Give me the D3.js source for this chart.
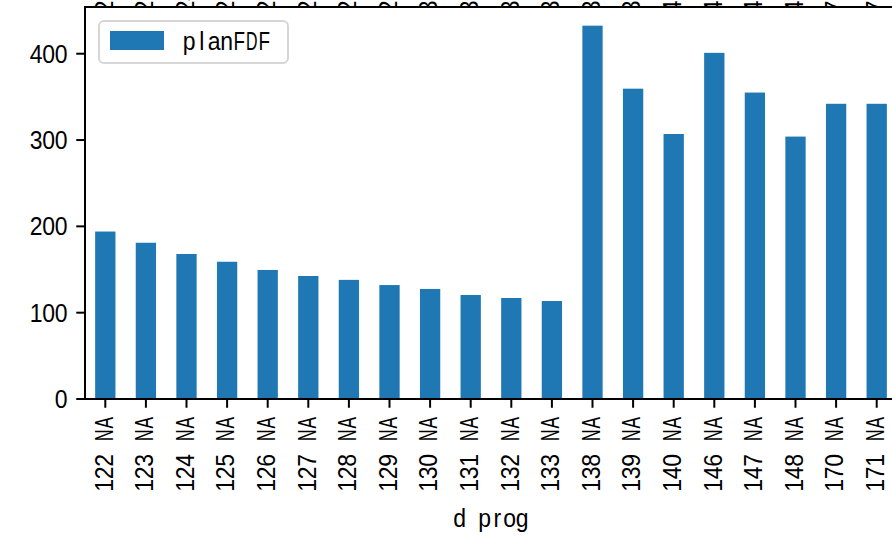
<!DOCTYPE html>
<html>
<head>
<meta charset="utf-8">
<script src="https://cdn.jsdelivr.net/npm/d3@7"></script>
<style>
  body {margin:0; background:white;}
  text {font-family:"Liberation Sans", Arial, sans-serif; fill:black;}
</style>
</head>
<body>
<div id="chart"></div>
<script>
//Chart data
var categories=["122 NA","123 NA","124 NA","125 NA","126 NA","127 NA","128 NA","129 NA","130 NA","131 NA",
                "132 NA","133 NA","138 NA","139 NA","140 NA","146 NA","147 NA","148 NA","170 NA","171 NA"];
var planFDF=[194,181,168,159,149.5,142.5,138,132,127.5,120.5,117,113.5,432.5,359.5,307,401,355,304,342,342];
var yTicks=[0,100,200,300,400];
var seriesName="planFDF";
var xLabel="d prog";

//Svg size and plot box
var w=892;
var h=537;
var plotLeft=85, plotTop=7, plotBottom=399;
var plotW=812;

//Font cell emulation (half width monospace look)
var fs=25;
var cw=12.5;
var sx=0.92;
var barColor="#1f77b4";

var svg=d3.select("#chart")
          .append("svg")
          .attr("width",w)
          .attr("height",h);

svg.append("rect")
   .attr("width",w)
   .attr("height",h)
   .attr("fill","white");

var x=d3.scaleBand()
        .domain(categories)
        .range([plotLeft,plotLeft+plotW])
        .paddingInner(0.5)
        .paddingOuter(0.25);

var y=d3.scaleLinear()
        .domain([0,d3.max(planFDF)*1.05])
        .range([plotBottom,plotTop]);

//Put each char in its own cell, anchored start/middle/end at local x=0
//wide glyphs get squeezed so they fit their cell
function cells(parent,transform,str,anchor) {
    var g=parent.append("g").attr("transform",transform);
    var n=str.length;
    var x0=anchor=="end" ? -n*cw : (anchor=="middle" ? -n*cw/2 : 0);
    for (var i=0; i<n; i++) {
        if (str[i]==" ") continue;
        var t=g.append("text")
               .attr("font-size",fs+"px")
               .attr("text-anchor","middle")
               .text(str[i]);
        var len=t.node().getComputedTextLength();
        var s=len>14.5 ? (cw-1)/len : sx;
        t.attr("transform","translate("+(x0+(i+0.5)*cw)+",0) scale("+s+",1)");
    }
    return g;
}

//Leftover tick labels of the subplot above (mostly hidden under the axes)
var upper=svg.append("g").attr("id","upper-labels");
categories.forEach(function(c) {
    cells(upper,"translate("+(x(c)+x.bandwidth()/2+7.3)+",25.5) rotate(-90)",c,"start");
});

//Axes background
svg.append("rect")
   .attr("x",plotLeft)
   .attr("y",plotTop)
   .attr("width",plotW)
   .attr("height",plotBottom-plotTop)
   .attr("fill","white");

//Bars
svg.append("g")
   .attr("id","bars")
   .selectAll("rect")
   .data(planFDF)
   .enter()
   .append("rect")
   .attr("x",function(d,i) {return x(categories[i]);})
   .attr("y",function(d) {return y(d);})
   .attr("width",x.bandwidth())
   .attr("height",function(d) {return plotBottom-y(d);})
   .attr("fill",barColor);

//Y axis ticks
var yAxis=svg.append("g").attr("id","y-axis");
yTicks.forEach(function(v) {
    yAxis.append("line")
         .attr("x1",plotLeft-8.75)
         .attr("x2",plotLeft)
         .attr("y1",y(v))
         .attr("y2",y(v))
         .attr("stroke","black")
         .attr("stroke-width",2);
    cells(yAxis,"translate("+(plotLeft-17.5)+","+(y(v)+9)+")",String(v),"end");
});

//X axis ticks
var xAxis=svg.append("g").attr("id","x-axis");
categories.forEach(function(c) {
    var cx=x(c)+x.bandwidth()/2;
    xAxis.append("line")
         .attr("x1",cx)
         .attr("x2",cx)
         .attr("y1",plotBottom)
         .attr("y2",plotBottom+8.75)
         .attr("stroke","black")
         .attr("stroke-width",2);
    cells(xAxis,"translate("+(cx+7.3)+","+(plotBottom+17.5)+") rotate(-90)",c,"end");
});

//Spines
svg.append("line")
   .attr("x1",plotLeft).attr("x2",plotLeft+plotW)
   .attr("y1",plotTop).attr("y2",plotTop)
   .attr("stroke","black").attr("stroke-width",2);
svg.append("line")
   .attr("x1",plotLeft).attr("x2",plotLeft+plotW)
   .attr("y1",plotBottom).attr("y2",plotBottom)
   .attr("stroke","black").attr("stroke-width",2);
svg.append("line")
   .attr("x1",plotLeft).attr("x2",plotLeft)
   .attr("y1",plotTop-1).attr("y2",plotBottom+1)
   .attr("stroke","black").attr("stroke-width",2);

//X axis title
cells(svg,"translate("+(plotLeft+plotW/2)+",526.5)",xLabel,"middle");

//Legend
var legend=svg.append("g").attr("id","legend");
legend.append("rect")
      .attr("x",99)
      .attr("y",21)
      .attr("width",189)
      .attr("height",42)
      .attr("rx",5)
      .attr("fill","white")
      .attr("fill-opacity",0.8)
      .attr("stroke","#d6d6d6")
      .attr("stroke-width",2);
legend.append("rect")
      .attr("x",110)
      .attr("y",31)
      .attr("width",54)
      .attr("height",19)
      .attr("fill",barColor);
cells(legend,"translate(183,50)",seriesName,"start");
</script>
</body>
</html>
